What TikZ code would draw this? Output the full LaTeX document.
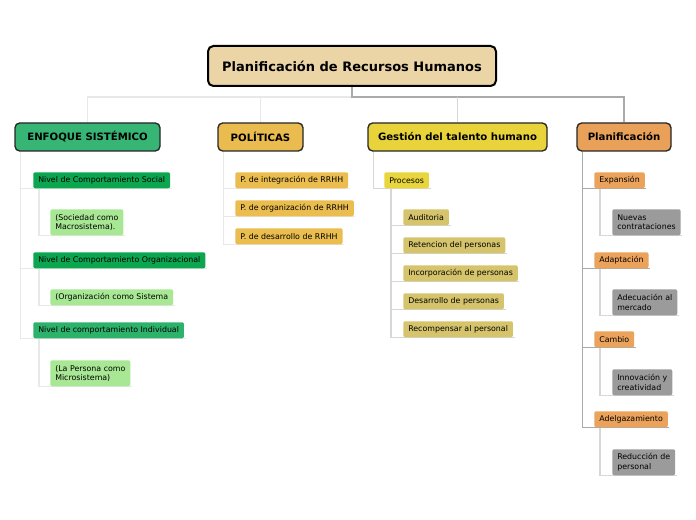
\documentclass[tikz,border=0pt]{standalone}
\usepackage{fontspec}
\setmainfont{DejaVu Sans}
\usetikzlibrary{backgrounds}
\definecolor{rootc}{RGB}{235,213,167}
\definecolor{enfc}{RGB}{54,181,117}
\definecolor{polc}{RGB}{234,187,78}
\definecolor{gesc}{RGB}{232,212,58}
\definecolor{planc}{RGB}{233,161,90}
\definecolor{nivc}{RGB}{12,166,80}
\definecolor{nivbc}{RGB}{45,178,107}
\definecolor{lgreen}{RGB}{168,232,149}
\definecolor{pc}{RGB}{234,189,78}
\definecolor{procc}{RGB}{232,214,60}
\definecolor{khaki}{RGB}{213,196,108}
\definecolor{plc}{RGB}{235,163,92}
\definecolor{grayc}{RGB}{155,155,155}
\definecolor{ln1}{RGB}{232,232,232}
\definecolor{ln2}{RGB}{215,215,215}
\definecolor{ln3}{RGB}{170,170,170}
\tikzset{
  rootbox/.style={draw=black, line width=1.5pt, rounded corners=4pt, fill=rootc,
    minimum width=216pt, minimum height=30pt, font=\bfseries\fontsize{9.75}{11}\selectfont},
  headbox/.style={draw=black!85, line width=1pt, rounded corners=3.5pt,
    minimum height=21pt, inner xsep=2pt, font=\bfseries\fontsize{7.6}{9}\selectfont},
  leaf/.style={anchor=north west, rounded corners=1.5pt, minimum height=12pt,
    inner xsep=3.75pt, inner ysep=1pt, align=left, font=\fontsize{5.9}{7}\selectfont},
  leaftwo/.style={leaf, minimum height=19.5pt},
  conn/.style={line width=0.8pt}
}
\begin{document}
\begin{tikzpicture}[x=0.75pt,y=-0.75pt]
\useasboundingbox (0,0) rectangle (696,520);
% root and headers
\node[rootbox] (root) at (352,66) {Planificación de Recursos Humanos};
\node[headbox, fill=enfc, minimum width=108.75pt] (enf) at (87.5,137) {ENFOQUE SISTÉMICO};
\node[headbox, fill=polc, minimum width=63.75pt] (pol) at (260.5,137) {POLÍTICAS};
\node[headbox, fill=gesc, minimum width=134.25pt] (ges) at (457.5,137) {Gestión del talento humano};
\node[headbox, fill=planc, minimum width=70.5pt] (plan) at (624,137) {Planificación};
\coordinate (bus) at (352,97);
% Enfoque
\node[leaf, fill=nivc] (n1) at (33,172) {Nivel de Comportamiento Social};
\node[leaftwo, fill=lgreen] (n1a) at (50,209) {(Sociedad como\\Macrosistema).};
\node[leaf, fill=nivc] (n2) at (33,252) {Nivel de Comportamiento Organizacional};
\node[leaf, fill=lgreen] (n2a) at (50,289) {(Organización como Sistema};
\node[leaf, fill=nivbc] (n3) at (33,322) {Nivel de comportamiento Individual};
\node[leaftwo, fill=lgreen] (n3a) at (50,360) {(La Persona como\\Microsistema)};
% Politicas
\node[leaf, fill=pc] (p1) at (235,172) {P. de integración de RRHH};
\node[leaf, fill=pc] (p2) at (235,200) {P. de organización de RRHH};
\node[leaf, fill=pc] (p3) at (235,228) {P. de desarrollo de RRHH};
% Gestion
\node[leaf, fill=procc] (proc) at (384,172) {Procesos};
\node[leaf, fill=khaki] (q1) at (403,209) {Auditoria};
\node[leaf, fill=khaki] (q2) at (403,237) {Retencion del personas};
\node[leaf, fill=khaki] (q3) at (403,265) {Incorporación de personas};
\node[leaf, fill=khaki] (q4) at (403,293) {Desarrollo de personas};
\node[leaf, fill=khaki] (q5) at (403,321) {Recompensar al personal};
% Planificacion
\node[leaf, fill=plc] (e1) at (594,172) {Expansión};
\node[leaftwo, fill=grayc] (e1a) at (612,209) {Nuevas\\contrataciones};
\node[leaf, fill=plc] (e2) at (594,252) {Adaptación};
\node[leaftwo, fill=grayc] (e2a) at (612,289) {Adecuación al\\mercado};
\node[leaf, fill=plc] (e3) at (594,331) {Cambio};
\node[leaftwo, fill=grayc] (e3a) at (612,369) {Innovación y\\creatividad};
\node[leaf, fill=plc] (e4) at (594,411) {Adelgazamiento};
\node[leaftwo, fill=grayc] (e4a) at (612,449) {Reducción de\\personal};
\begin{scope}[on background layer]
% bus
\draw[conn, draw=ln1] (bus) -| (enf.north);
\draw[conn, draw=ln1] (bus) -| (pol.north);
\draw[conn, draw=ln3] (root.south) -- (bus) -| (plan.north);
\draw[conn, draw=ln2] (ges.north |- bus) -- (ges.north);
% enfoque
\foreach \c in {n1,n2,n3} \draw[conn, draw=ln1] ([xshift=4.5pt]enf.south west) |- ([xshift=1pt]\c.south east);
\foreach \p/\c in {n1/n1a,n2/n2a,n3/n3a} \draw[conn, draw=ln1] ([xshift=4.5pt]\p.south west) |- ([xshift=1pt]\c.south east);
% politicas
\foreach \c in {p1,p2,p3} \draw[conn, draw=ln1] ([xshift=4.5pt]pol.south west) |- ([xshift=1pt]\c.south east);
% gestion
\draw[conn, draw=ln2] ([xshift=4.5pt]ges.south west) |- ([xshift=1pt]proc.south east);
\foreach \c in {q1,q2,q3,q4,q5} \draw[conn, draw=ln2] ([xshift=5.25pt]proc.south west) |- ([xshift=1pt]\c.south east);
% planificacion
\foreach \c in {e1,e2,e3,e4} \draw[conn, draw=ln3] ([xshift=4.5pt]plan.south west) |- ([xshift=1pt]\c.south east);
\foreach \p/\c in {e1/e1a,e2/e2a,e3/e3a,e4/e4a} \draw[conn, draw=ln2] ([xshift=4.5pt]\p.south west) |- ([xshift=1pt]\c.south east);
\end{scope}
\end{tikzpicture}
\end{document}
